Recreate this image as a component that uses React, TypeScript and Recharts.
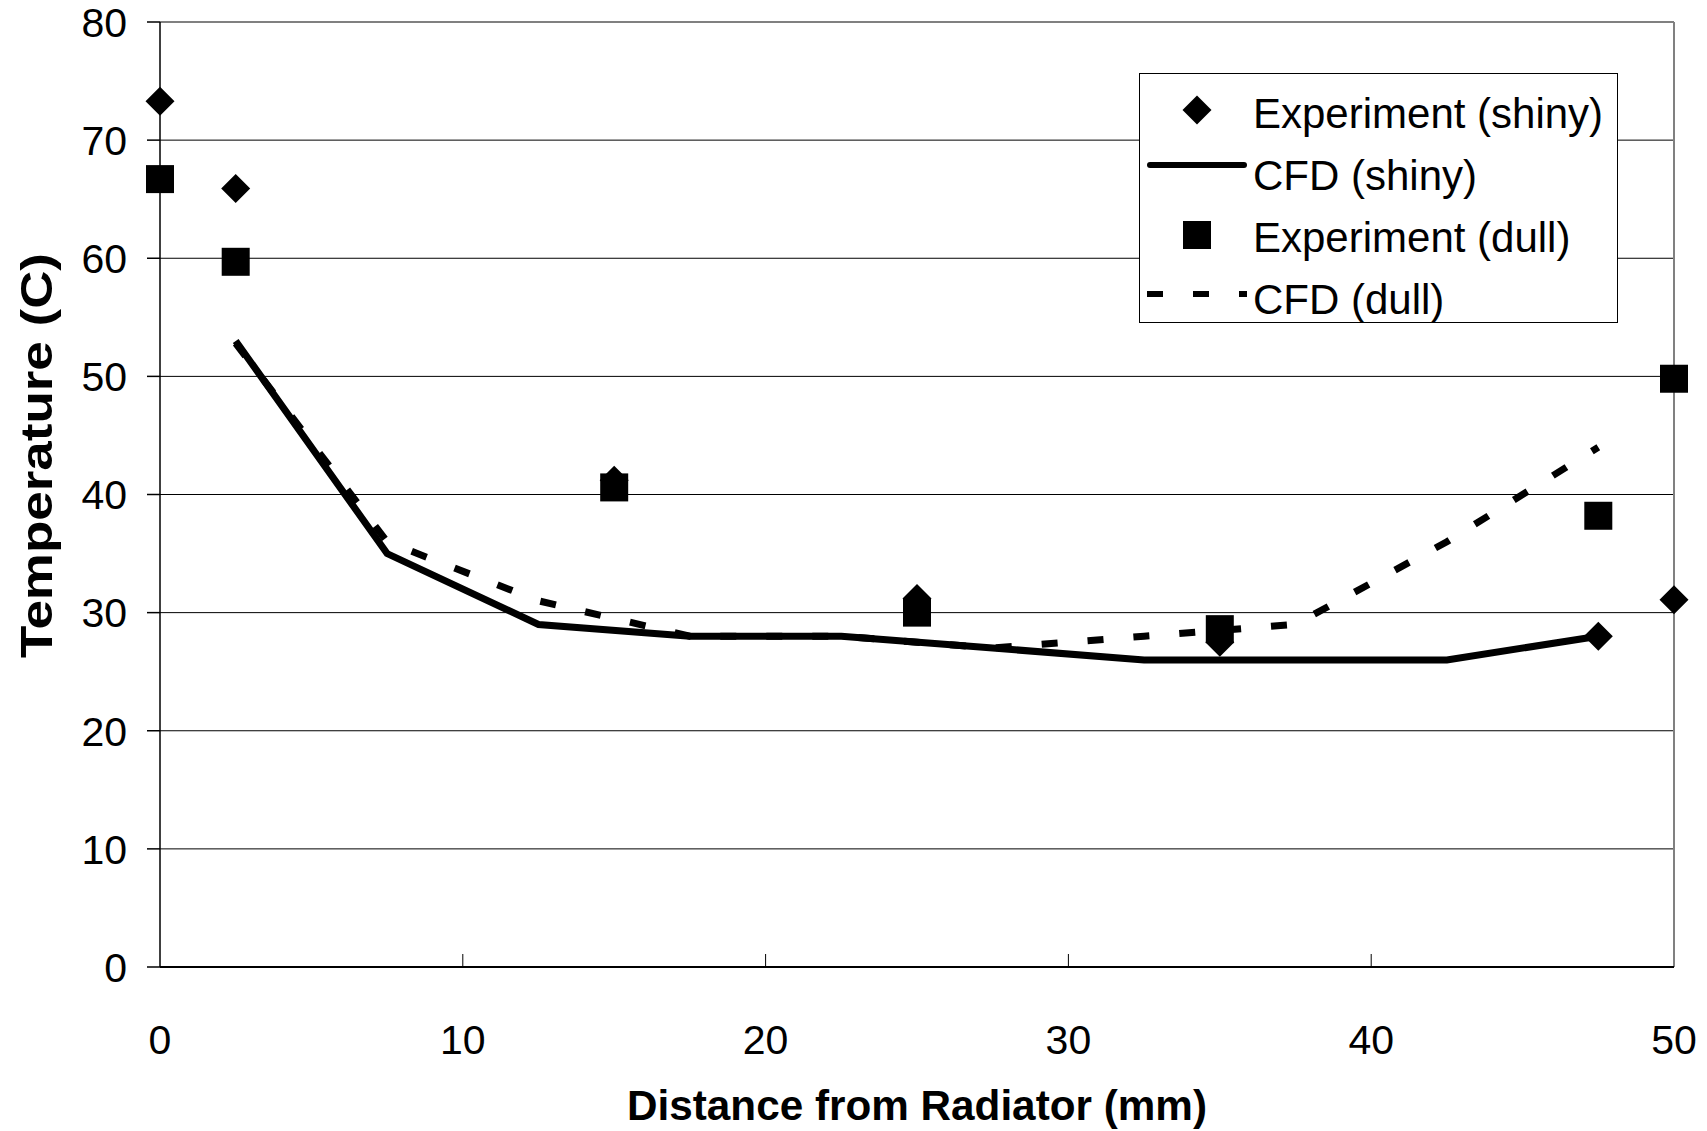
import React from "react";
import {
  ComposedChart,
  Line,
  Scatter,
  XAxis,
  YAxis,
  CartesianGrid,
  ReferenceLine,
  Legend,
} from "recharts";

// distances (mm)
const expX = [0, 2.5, 15, 25, 35, 47.5, 50];
const expShinyY = [73.3, 65.9, 41.2, 31.2, 27.5, 28.0, 31.1];
const expDullY = [66.7, 59.7, 40.6, 30.0, 28.6, 38.2, 49.8];

const cfdX = [2.5, 7.5, 12.5, 17.5, 22.5, 27.5, 32.5, 37.5, 42.5, 47.5];
const cfdShinyY = [53, 35, 29, 28, 28, 27, 26, 26, 26, 28];
const cfdDullY = [52.8, 36, 31, 28, 28, 27, 28, 29, 36, 44];

const xTicks = [0, 10, 20, 30, 40, 50];
const yTicks = [0, 10, 20, 30, 40, 50, 60, 70, 80];

const legendItems = [
  { name: "Experiment (shiny)", kind: "diamond" },
  { name: "CFD (shiny)", kind: "solid" },
  { name: "Experiment (dull)", kind: "square" },
  { name: "CFD (dull)", kind: "dashed" },
];

const toPoints = (xs: number[], ys: number[]) => xs.map((x, i) => ({ x, y: ys[i] }));

const FONT = "'Liberation Sans', Arial, sans-serif";
const X_TICK_SIZE = 13;
const X_TICK_MARGIN = 45;
const DASH = "16 30";

const Diamond = ({ cx, cy }: any) => {
  if (cx == null || cy == null) return null;
  const r = 14.5;
  return (
    <polygon
      points={`${cx},${cy - r} ${cx + r},${cy} ${cx},${cy + r} ${cx - r},${cy}`}
      fill="#000"
    />
  );
};

const Square = ({ cx, cy }: any) => {
  if (cx == null || cy == null) return null;
  const r = 14;
  return <rect x={cx - r} y={cy - r} width={r * 2} height={r * 2} fill="#000" />;
};

const XTick = (props: any) => {
  const { x, y, payload } = props;
  const axisY = y - X_TICK_SIZE - X_TICK_MARGIN;
  const v = payload.value;
  return (
    <g>
      {v > 0 && v < 50 && (
        <line x1={x} x2={x} y1={axisY} y2={axisY - 13} stroke="#000" strokeWidth={1} />
      )}
      <text
        x={x}
        y={y}
        dy="0.71em"
        textAnchor="middle"
        fontFamily={FONT}
        fontSize={41}
        fill="#000"
      >
        {v}
      </text>
    </g>
  );
};

const YTick = (props: any) => {
  const { x, y, payload } = props;
  return (
    <text
      x={x}
      y={y}
      dy="0.36em"
      textAnchor="end"
      fontFamily={FONT}
      fontSize={41}
      fill="#000"
    >
      {payload.value}
    </text>
  );
};

const YLabel = (props: any) => {
  const vb = props.viewBox || { x: 0, y: 0, width: 160, height: 945 };
  const cx = vb.x + 36;
  const cy = vb.y + vb.height / 2 - 39;
  return (
    <text
      x={cx}
      y={cy}
      transform={`rotate(-90 ${cx} ${cy})`}
      textAnchor="middle"
      dominantBaseline="central"
      fontFamily={FONT}
      fontWeight="bold"
      fontSize={44}
      textLength={405}
      lengthAdjust="spacingAndGlyphs"
      fill="#000"
    >
      Temperature (C)
    </text>
  );
};

const XLabel = (props: any) => {
  const vb = props.viewBox || { x: 160, y: 967, width: 1514, height: 164 };
  const cx = vb.x + vb.width / 2;
  const cy = vb.y + 138;
  return (
    <text
      x={cx}
      y={cy}
      textAnchor="middle"
      dominantBaseline="central"
      fontFamily={FONT}
      fontWeight="bold"
      fontSize={42}
      textLength={580}
      lengthAdjust="spacingAndGlyphs"
      fill="#000"
    >
      Distance from Radiator (mm)
    </text>
  );
};

function LegendIcon({ kind }: { kind: string }) {
  return (
    <svg width={100} height={40} style={{ display: "block", flex: "none" }}>
      {kind === "diamond" && <Diamond cx={50} cy={16} />}
      {kind === "square" && <Square cx={50} cy={17} />}
      {kind === "solid" && (
        <line x1={3} x2={97} y1={9} y2={9} stroke="#000" strokeWidth={6} strokeLinecap="round" />
      )}
      {kind === "dashed" && (
        <line x1={0} x2={100} y1={14} y2={14} stroke="#000" strokeWidth={6} strokeDasharray={DASH} />
      )}
    </svg>
  );
}

function LegendBox() {
  return (
    <div
      style={{
        boxSizing: "border-box",
        width: 479,
        height: 250,
        border: "1px solid #000",
        background: "#fff",
        paddingTop: 9,
        fontFamily: FONT,
        fontSize: 42,
        color: "#000",
      }}
    >
      {legendItems.map((item) => (
        <div
          key={item.name}
          style={{ display: "flex", alignItems: "center", height: 62, paddingLeft: 7 }}
        >
          <LegendIcon kind={item.kind} />
          <span style={{ marginLeft: 6, whiteSpace: "nowrap", lineHeight: "62px" }}>{item.name}</span>
        </div>
      ))}
    </div>
  );
}

export default function App() {
  return (
    <div style={{ position: "absolute", left: 0, top: 0, background: "#fff" }}>
      <ComposedChart
        width={1707}
        height={1131}
        margin={{ top: 22, right: 33, bottom: 0, left: 0 }}
      >
        <CartesianGrid vertical={false} stroke="#000" strokeWidth={1} horizontalValues={yTicks} />
        <XAxis
          dataKey="x"
          type="number"
          domain={[0, 50]}
          ticks={xTicks}
          height={164}
          tickSize={X_TICK_SIZE}
          tickMargin={X_TICK_MARGIN}
          tickLine={false}
          tick={<XTick />}
          axisLine={{ stroke: "#000", strokeWidth: 2 }}
          allowDuplicatedCategory={false}
          label={<XLabel />}
        />
        <YAxis
          dataKey="y"
          type="number"
          domain={[0, 80]}
          ticks={yTicks}
          width={160}
          tickSize={13}
          tickMargin={20}
          tick={<YTick />}
          tickLine={{ stroke: "#000", strokeWidth: 1.5 }}
          axisLine={{ stroke: "#000", strokeWidth: 1.5 }}
          label={<YLabel />}
        />
        <ReferenceLine y={80} stroke="#808080" strokeWidth={2} />
        <ReferenceLine x={50} stroke="#808080" strokeWidth={2} />
        <Legend
          layout="horizontal"
          verticalAlign="middle"
          align="center"
          wrapperStyle={{ left: 1139, top: 73, width: 479, height: 250 }}
          content={() => <LegendBox />}
        />
        <Line
          data={toPoints(cfdX, cfdShinyY)}
          dataKey="y"
          name="CFD (shiny)"
          type="linear"
          stroke="#000"
          strokeWidth={7}
          dot={false}
          activeDot={false}
          isAnimationActive={false}
        />
        <Line
          data={toPoints(cfdX, cfdDullY)}
          dataKey="y"
          name="CFD (dull)"
          type="linear"
          stroke="#000"
          strokeWidth={7}
          strokeDasharray={DASH}
          dot={false}
          activeDot={false}
          isAnimationActive={false}
        />
        <Scatter
          data={toPoints(expX, expShinyY)}
          dataKey="y"
          name="Experiment (shiny)"
          shape={(p: any) => <Diamond {...p} />}
          isAnimationActive={false}
        />
        <Scatter
          data={toPoints(expX, expDullY)}
          dataKey="y"
          name="Experiment (dull)"
          shape={(p: any) => <Square {...p} />}
          isAnimationActive={false}
        />
      </ComposedChart>
    </div>
  );
}
